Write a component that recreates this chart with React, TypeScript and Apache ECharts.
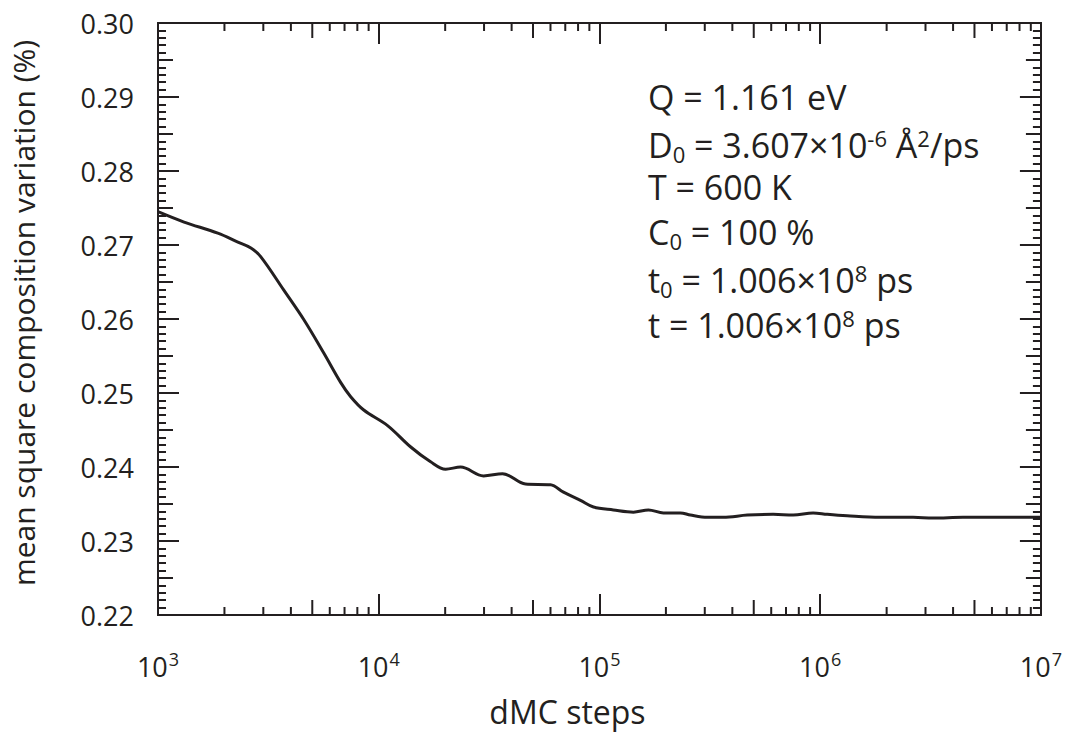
import React, { useEffect, useRef } from "react";
import * as echarts from "echarts";

const steps = [
  1000, 1312, 1866, 2301, 2636, 2924, 3715, 4581, 5636, 6730, 7464, 8551, 10965, 13964, 17179,
  20091, 23496, 29854, 36392, 46238, 59979, 68707, 82035, 93972, 115611, 142561, 166725, 194984,
  232809, 258226, 308319, 363915, 467735, 612350, 755092, 928966, 1076465, 1324341, 1866380,
  2636331, 3243396, 4436086, 6324119, 10000000,
];
const msVariation = [
  0.2745, 0.2731, 0.2716, 0.2704, 0.2696, 0.2684, 0.2639, 0.2599, 0.2554, 0.2514, 0.2495, 0.2477,
  0.2456, 0.2427, 0.2407, 0.2397, 0.24, 0.2388, 0.2391, 0.2377, 0.2376, 0.2366, 0.2355, 0.2346,
  0.2342, 0.2339, 0.2342, 0.2338, 0.2338, 0.2335, 0.2332, 0.2332, 0.2335, 0.2336, 0.2335, 0.2338,
  0.2336, 0.2334, 0.2332, 0.2332, 0.2331, 0.2332, 0.2332, 0.2332,
];
const xMin = 1000;
const xMax = 10000000;
const yMin = 0.22;
const yMax = 0.3;
const yInterval = 0.01;
const minorDigits = [2, 3, 4, 5, 6, 7, 8, 9];
const decades = [1000, 10000, 100000, 1000000];

const annotationLines = [
  "{n|Q = 1.161 eV}",
  "{n|D}{sub|0}{n| = 3.607×10}{sup|-6}{n| Å}{sup|2}{n|/ps}",
  "{n|T = 600 K}",
  "{n|C}{sub|0}{n| = 100 %}",
  "{n|t}{sub|0}{n| = 1.006×10}{sup|8}{n| ps}",
  "{n|t = 1.006×10}{sup|8}{n| ps}",
];

const INK = "#231f20";
const FONT = "'Open Sans', 'DejaVu Sans', sans-serif";

export default function App() {
  const ref = useRef<HTMLDivElement>(null);
  useEffect(() => {
    if (!ref.current) return;
    const chart = echarts.init(ref.current, null, { renderer: "svg" });
    const minorTicks: number[][] = [];
    decades.forEach((d) => minorDigits.forEach((m) => minorTicks.push([d * m, 0.25, m])));

    const yBase = (position: string, interval: number, len: number, showLabel: boolean, minor: boolean, name?: string) => ({
      type: "value",
      position,
      min: yMin,
      max: yMax,
      interval,
      name: name || "",
      nameLocation: "middle",
      nameGap: 120,
      nameTextStyle: { fontFamily: FONT, fontSize: 30, color: INK, padding: [0, 0, 0, 12] },
      axisLine: { show: true, onZero: false, lineStyle: { color: INK, width: 2 } },
      axisTick: { show: true, inside: true, length: len, lineStyle: { color: INK, width: 2 } },
      minorTick: { show: minor, splitNumber: 10, length: 8, lineStyle: { color: INK, width: 2 } },
      axisLabel: {
        show: showLabel,
        margin: 24,
        fontFamily: FONT,
        fontSize: 27,
        color: INK,
        formatter: (v: number) => v.toFixed(2),
      },
      splitLine: { show: false },
    });

    const xBase = (position: string, showLabel: boolean, name?: string) => ({
      type: "log",
      logBase: 10,
      position,
      min: xMin,
      max: xMax,
      name: name || "",
      nameLocation: "middle",
      nameGap: 80,
      nameTextStyle: { fontFamily: FONT, fontSize: 32, color: INK, padding: [0, 64, 0, 0] },
      axisLine: { show: true, onZero: false, lineStyle: { color: INK, width: 2 } },
      axisTick: { show: true, inside: true, length: 21, lineStyle: { color: INK, width: 2 } },
      axisLabel: {
        show: showLabel,
        margin: 35,
        formatter: (v: number) => `{b|10}{s|${Math.round(Math.log10(v))}}`,
        rich: {
          b: { fontFamily: FONT, fontSize: 27, color: INK, lineHeight: 32 },
          s: { fontFamily: FONT, fontSize: 18, color: INK, lineHeight: 32, verticalAlign: "top", padding: [0, 0, 0, 1] },
        },
      },
      splitLine: { show: false },
    });

    const rich = {
      n: { fontFamily: FONT, fontSize: 34, lineHeight: 40, fill: INK, verticalAlign: "middle" },
      sub: { fontFamily: FONT, fontSize: 22, lineHeight: 22, fill: INK, verticalAlign: "bottom" },
      sup: { fontFamily: FONT, fontSize: 22, lineHeight: 22, fill: INK, verticalAlign: "top", padding: [2, 0, 0, 0] },
    };

    chart.setOption({
      animation: false,
      backgroundColor: "#ffffff",
      grid: { left: 157, right: 24, top: 23, bottom: 133, containLabel: false },
      xAxis: [xBase("bottom", true, "dMC steps"), xBase("top", false)],
      yAxis: [
        yBase("left", yInterval, 21, true, true, "mean square composition variation (%)"),
        yBase("left", yInterval / 2, 15, false, false),
        yBase("right", yInterval, 21, false, true),
        yBase("right", yInterval / 2, 15, false, false),
      ],
      series: [
        {
          type: "line",
          xAxisIndex: 0,
          yAxisIndex: 0,
          data: steps.map((s, i) => [s, msVariation[i]]),
          smooth: 0.35,
          showSymbol: false,
          symbol: "none",
          lineStyle: { color: INK, width: 3 },
          silent: true,
        },
        {
          type: "custom",
          xAxisIndex: 0,
          yAxisIndex: 0,
          silent: true,
          clip: false,
          data: minorTicks,
          renderItem: (params: any, api: any) => {
            const v = api.value(0);
            const digit = api.value(2);
            const pt = api.coord([v, yMin]);
            const cs = params.coordSys;
            const len = digit === 5 ? 15 : 8;
            const bottom = cs.y + cs.height;
            return {
              type: "group",
              children: [
                { type: "line", shape: { x1: pt[0], y1: bottom, x2: pt[0], y2: bottom - len }, style: { stroke: INK, lineWidth: 2 } },
                { type: "line", shape: { x1: pt[0], y1: cs.y, x2: pt[0], y2: cs.y + len }, style: { stroke: INK, lineWidth: 2 } },
              ],
            };
          },
        },
      ],
      graphic: annotationLines.map((line, i) => ({
        type: "text",
        left: 648,
        top: 80 + i * 45,
        style: { text: line, fill: INK, rich },
      })),
    });
    return () => chart.dispose();
  }, []);
  return (
    <div
      ref={ref}
      style={{ position: "absolute", left: 0, top: 0, width: 1065, height: 748, background: "#fff" }}
    />
  );
}
